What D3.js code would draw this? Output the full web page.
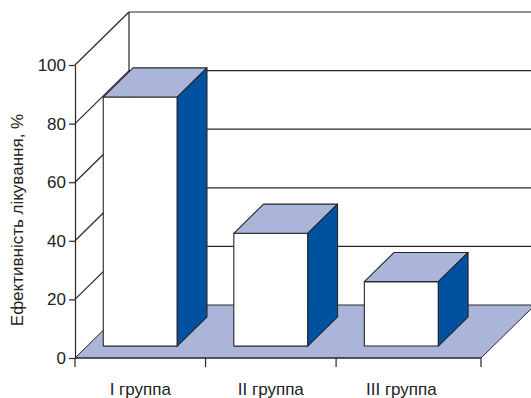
<!DOCTYPE html>
<html>
<head>
<meta charset="utf-8">
<script src="https://cdn.jsdelivr.net/npm/d3@7"></script>
<style>
  html, body { margin: 0; padding: 0; background: #fff; }
  svg { display: block; }
  text { font-family: "Liberation Sans", Arial, sans-serif; fill: #222; }
</style>
</head>
<body>
<svg id="chart" width="531" height="398"></svg>
<script>
// Treatment efficacy by group, drawn as a 3D-style column chart
const categories = ["I группа", "II группа", "III группа"];
const efficacy = [85, 38.5, 22];
const yTickValues = [0, 20, 40, 60, 80, 100];
const yTitle = "Ефективність лікування, %";

const svg = d3.select("#chart");

// front plane of the plot box
const plotLeft = 75, plotRight = 481, plotBottom = 358, plotTop = 65;
// oblique depth offset of the box (x right, y up)
const depthX = 54, depthY = 53;
// bars occupy the middle part of the depth
const barFront = 0.225, barBack = 0.775;

const y = d3.scaleLinear().domain([0, 100]).range([plotBottom, plotTop]);
const x = d3.scaleBand()
  .domain(categories)
  .range([plotLeft, plotRight])
  .paddingInner(0)
  .paddingOuter(0.055)
  .align(0);

const lavender = "#abb4d9";
const sideBlue = "#0052a1";
const edge = "#262626";

// back wall
svg.append("rect")
  .attr("x", plotLeft + depthX).attr("y", y(100) - depthY)
  .attr("width", plotRight - plotLeft).attr("height", y(0) - y(100))
  .attr("fill", "#fff");

// gridlines on the back wall and their diagonals on the left wall
const grid = svg.append("g").attr("stroke", edge).attr("stroke-width", 1.2).attr("fill", "none");
grid.selectAll("line.back")
  .data(yTickValues.filter(d => d > 0))
  .join("line")
  .attr("class", "back")
  .attr("x1", plotLeft + depthX).attr("x2", plotRight + depthX)
  .attr("y1", d => y(d) - depthY).attr("y2", d => y(d) - depthY);
grid.selectAll("line.side")
  .data(yTickValues.filter(d => d > 0))
  .join("line")
  .attr("class", "side")
  .attr("x1", plotLeft).attr("x2", plotLeft + depthX)
  .attr("y1", d => y(d)).attr("y2", d => y(d) - depthY);
grid.append("line")
  .attr("x1", plotLeft + depthX).attr("x2", plotLeft + depthX)
  .attr("y1", y(100) - depthY).attr("y2", y(0) - depthY);

// floor
svg.append("polygon")
  .attr("points", [
    [plotLeft, y(0)], [plotRight, y(0)],
    [plotRight + depthX, y(0) - depthY], [plotLeft + depthX, y(0) - depthY]
  ].map(p => p.join(",")).join(" "))
  .attr("fill", lavender)
  .attr("stroke", edge).attr("stroke-width", 1);

// columns
const barW = x.step() * 0.567;
const dBarX = (barBack - barFront) * depthX;
const dBarY = (barBack - barFront) * depthY;
const bars = svg.append("g").attr("stroke", edge).attr("stroke-width", 1.1).attr("stroke-linejoin", "round");
categories.forEach((c, i) => {
  const cx = x(c) + x.bandwidth() / 2;
  const x0 = cx - barW / 2, x1 = cx + barW / 2;
  const yTop = y(efficacy[i]) - barFront * depthY;
  const yBot = y(0) - barFront * depthY;
  const g = bars.append("g");
  g.append("rect")
    .attr("x", x0).attr("y", yTop)
    .attr("width", x1 - x0).attr("height", yBot - yTop)
    .attr("fill", "#fff");
  g.append("polygon")
    .attr("points", [[x0, yTop], [x1, yTop], [x1 + dBarX, yTop - dBarY], [x0 + dBarX, yTop - dBarY]]
      .map(p => p.join(",")).join(" "))
    .attr("fill", lavender);
  g.append("polygon")
    .attr("points", [[x1, yTop], [x1 + dBarX, yTop - dBarY], [x1 + dBarX, yBot - dBarY], [x1, yBot]]
      .map(p => p.join(",")).join(" "))
    .attr("fill", sideBlue);
});

// value axis
const yAxis = svg.append("g")
  .attr("transform", `translate(${plotLeft},0)`)
  .call(d3.axisLeft(y).tickValues(yTickValues).tickSize(6).tickSizeOuter(0).tickPadding(3));
yAxis.select(".domain").attr("stroke", edge).attr("stroke-width", 1.2);
yAxis.selectAll(".tick line").attr("stroke", edge).attr("stroke-width", 1.2);
yAxis.selectAll(".tick text").attr("font-size", 17).attr("fill", "#222")
  .attr("font-family", "Liberation Sans, Arial, sans-serif");

// category axis
const xAxis = svg.append("g");
xAxis.append("line")
  .attr("x1", plotLeft).attr("x2", plotRight).attr("y1", y(0)).attr("y2", y(0))
  .attr("stroke", edge).attr("stroke-width", 1.2);
const boundaries = categories.map(c => x(c)).concat([plotRight]);
xAxis.selectAll("line.tick")
  .data(boundaries)
  .join("line")
  .attr("class", "tick")
  .attr("x1", d => d).attr("x2", d => d)
  .attr("y1", y(0)).attr("y2", y(0) + 9)
  .attr("stroke", edge).attr("stroke-width", 1.2);
xAxis.selectAll("text")
  .data(categories)
  .join("text")
  .attr("x", d => x(d) + x.bandwidth() / 2)
  .attr("y", 395)
  .attr("text-anchor", "middle")
  .attr("font-size", 17)
  .text(d => d);

// axis title
svg.append("text")
  .attr("transform", `translate(23,220) rotate(-90)`)
  .attr("text-anchor", "middle")
  .attr("font-size", 17)
  .text(yTitle);
</script>
</body>
</html>
